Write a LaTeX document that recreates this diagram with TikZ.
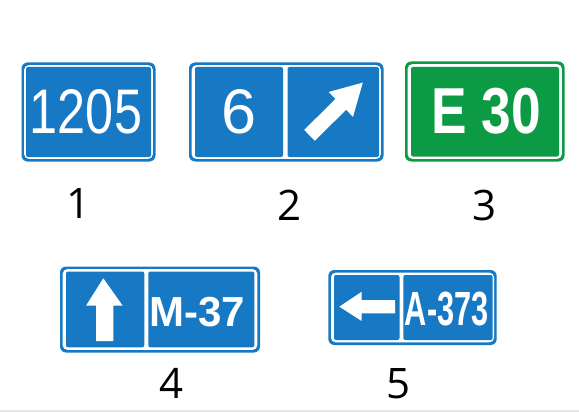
\documentclass[tikz,border=0pt]{standalone}
\usepackage{fontspec}
\usepackage{graphicx}
\setmainfont{Open Sans}
\newfontfamily\signfont{Liberation Sans}
\definecolor{signblue}{HTML}{1778C4}
\definecolor{signgreen}{HTML}{0D9A44}
\definecolor{floorgray}{HTML}{E6E6E6}
\begin{document}
\begin{tikzpicture}[x=1pt,y=-1pt,
  outer/.style={fill=#1,rounded corners=6pt},
  gap/.style={fill=white,rounded corners=4.5pt},
  panel/.style={fill=#1,rounded corners=2pt},
  signtext/.style={text=white,anchor=base,inner sep=0pt,font=\signfont},
  label/.style={text=black,anchor=base,inner sep=0pt,font=\fontsize{42}{42}\selectfont},
  arrowshape/.style={fill=white}]
\useasboundingbox (0,0) rectangle (579,412);
\fill[white] (0,0) rectangle (579,412);
\fill[floorgray] (0,410) rectangle (579,412);

% Sign 1
\fill[outer=signblue] (21.5,62.5) rectangle (155.5,161.5);
\fill[gap] (24.2,65.2) rectangle (152.8,158.8);
\fill[panel=signblue] (26,67) rectangle (151,157);
\node[signtext] (t1) at (86,133) {\fontsize{63}{63}\selectfont\scalebox{0.8}[1]{1205}};

% Sign 2
\fill[outer=signblue] (189,62.5) rectangle (383.5,161.5);
\fill[gap] (191.7,65.2) rectangle (380.8,158.8);
\fill[panel=signblue] (195,67) rectangle (283,157);
\fill[panel=signblue] (287.5,67) rectangle (379,157);
\node[signtext] (t2) at (239,133) {\fontsize{63}{63}\selectfont 6};
\fill[arrowshape] (304.2,129.9) -- (335.5,99.0) -- (328.6,92.0) -- (362.8,82.6)
  -- (353.0,116.8) -- (346.1,109.8) -- (314.8,140.7) -- cycle;

% Sign 3
\fill[outer=signgreen] (405,61.5) rectangle (564.5,161.5);
\fill[gap] (407.7,64.2) rectangle (561.8,158.8);
\fill[panel=signgreen] (411,67) rectangle (559,156.5);
\node[signtext] (t3) at (486,134) {\fontsize{65}{65}\selectfont\bfseries\scalebox{0.82}[1]{E 30}};

% Sign 4
\fill[outer=signblue] (60,266.5) rectangle (260,352.5);
\fill[gap] (62.7,269.2) rectangle (257.3,349.8);
\fill[panel=signblue] (66,271.5) rectangle (144.3,347.3);
\fill[panel=signblue] (148.3,271.5) rectangle (254.3,347.3);
\node[signtext] (t4) at (197.5,326) {\fontsize{42}{42}\selectfont\bfseries M-37};
\fill[arrowshape] (103.3,278.3) -- (122.7,305.7) -- (113.3,305.7) -- (113.3,341)
  -- (96,341) -- (96,305.7) -- (86,305.7) -- cycle;

% Sign 5
\fill[outer=signblue] (328.3,270) rectangle (496.7,345);
\fill[gap] (331,272.7) rectangle (494,342.3);
\fill[panel=signblue] (334,275) rectangle (399.5,340);
\fill[panel=signblue] (403.3,275) rectangle (492.7,340);
\node[signtext] (t5) at (446.7,325) {\fontsize{48}{48}\selectfont\bfseries\scalebox{0.64}[1]{A-373}};
\fill[arrowshape] (339.3,306.7) -- (361.7,291.7) -- (361.7,300) -- (395,300)
  -- (395,313.3) -- (361.7,313.3) -- (361.7,321) -- cycle;

% Labels
\node[label] (l1) at (79,218.5) {1};
\node[label] (l2) at (290,220) {2};
\node[label] (l3) at (485,220) {3};
\node[label] (l4) at (171.5,398) {4};
\node[label] (l5) at (399,398) {5};
\end{tikzpicture}
\end{document}
